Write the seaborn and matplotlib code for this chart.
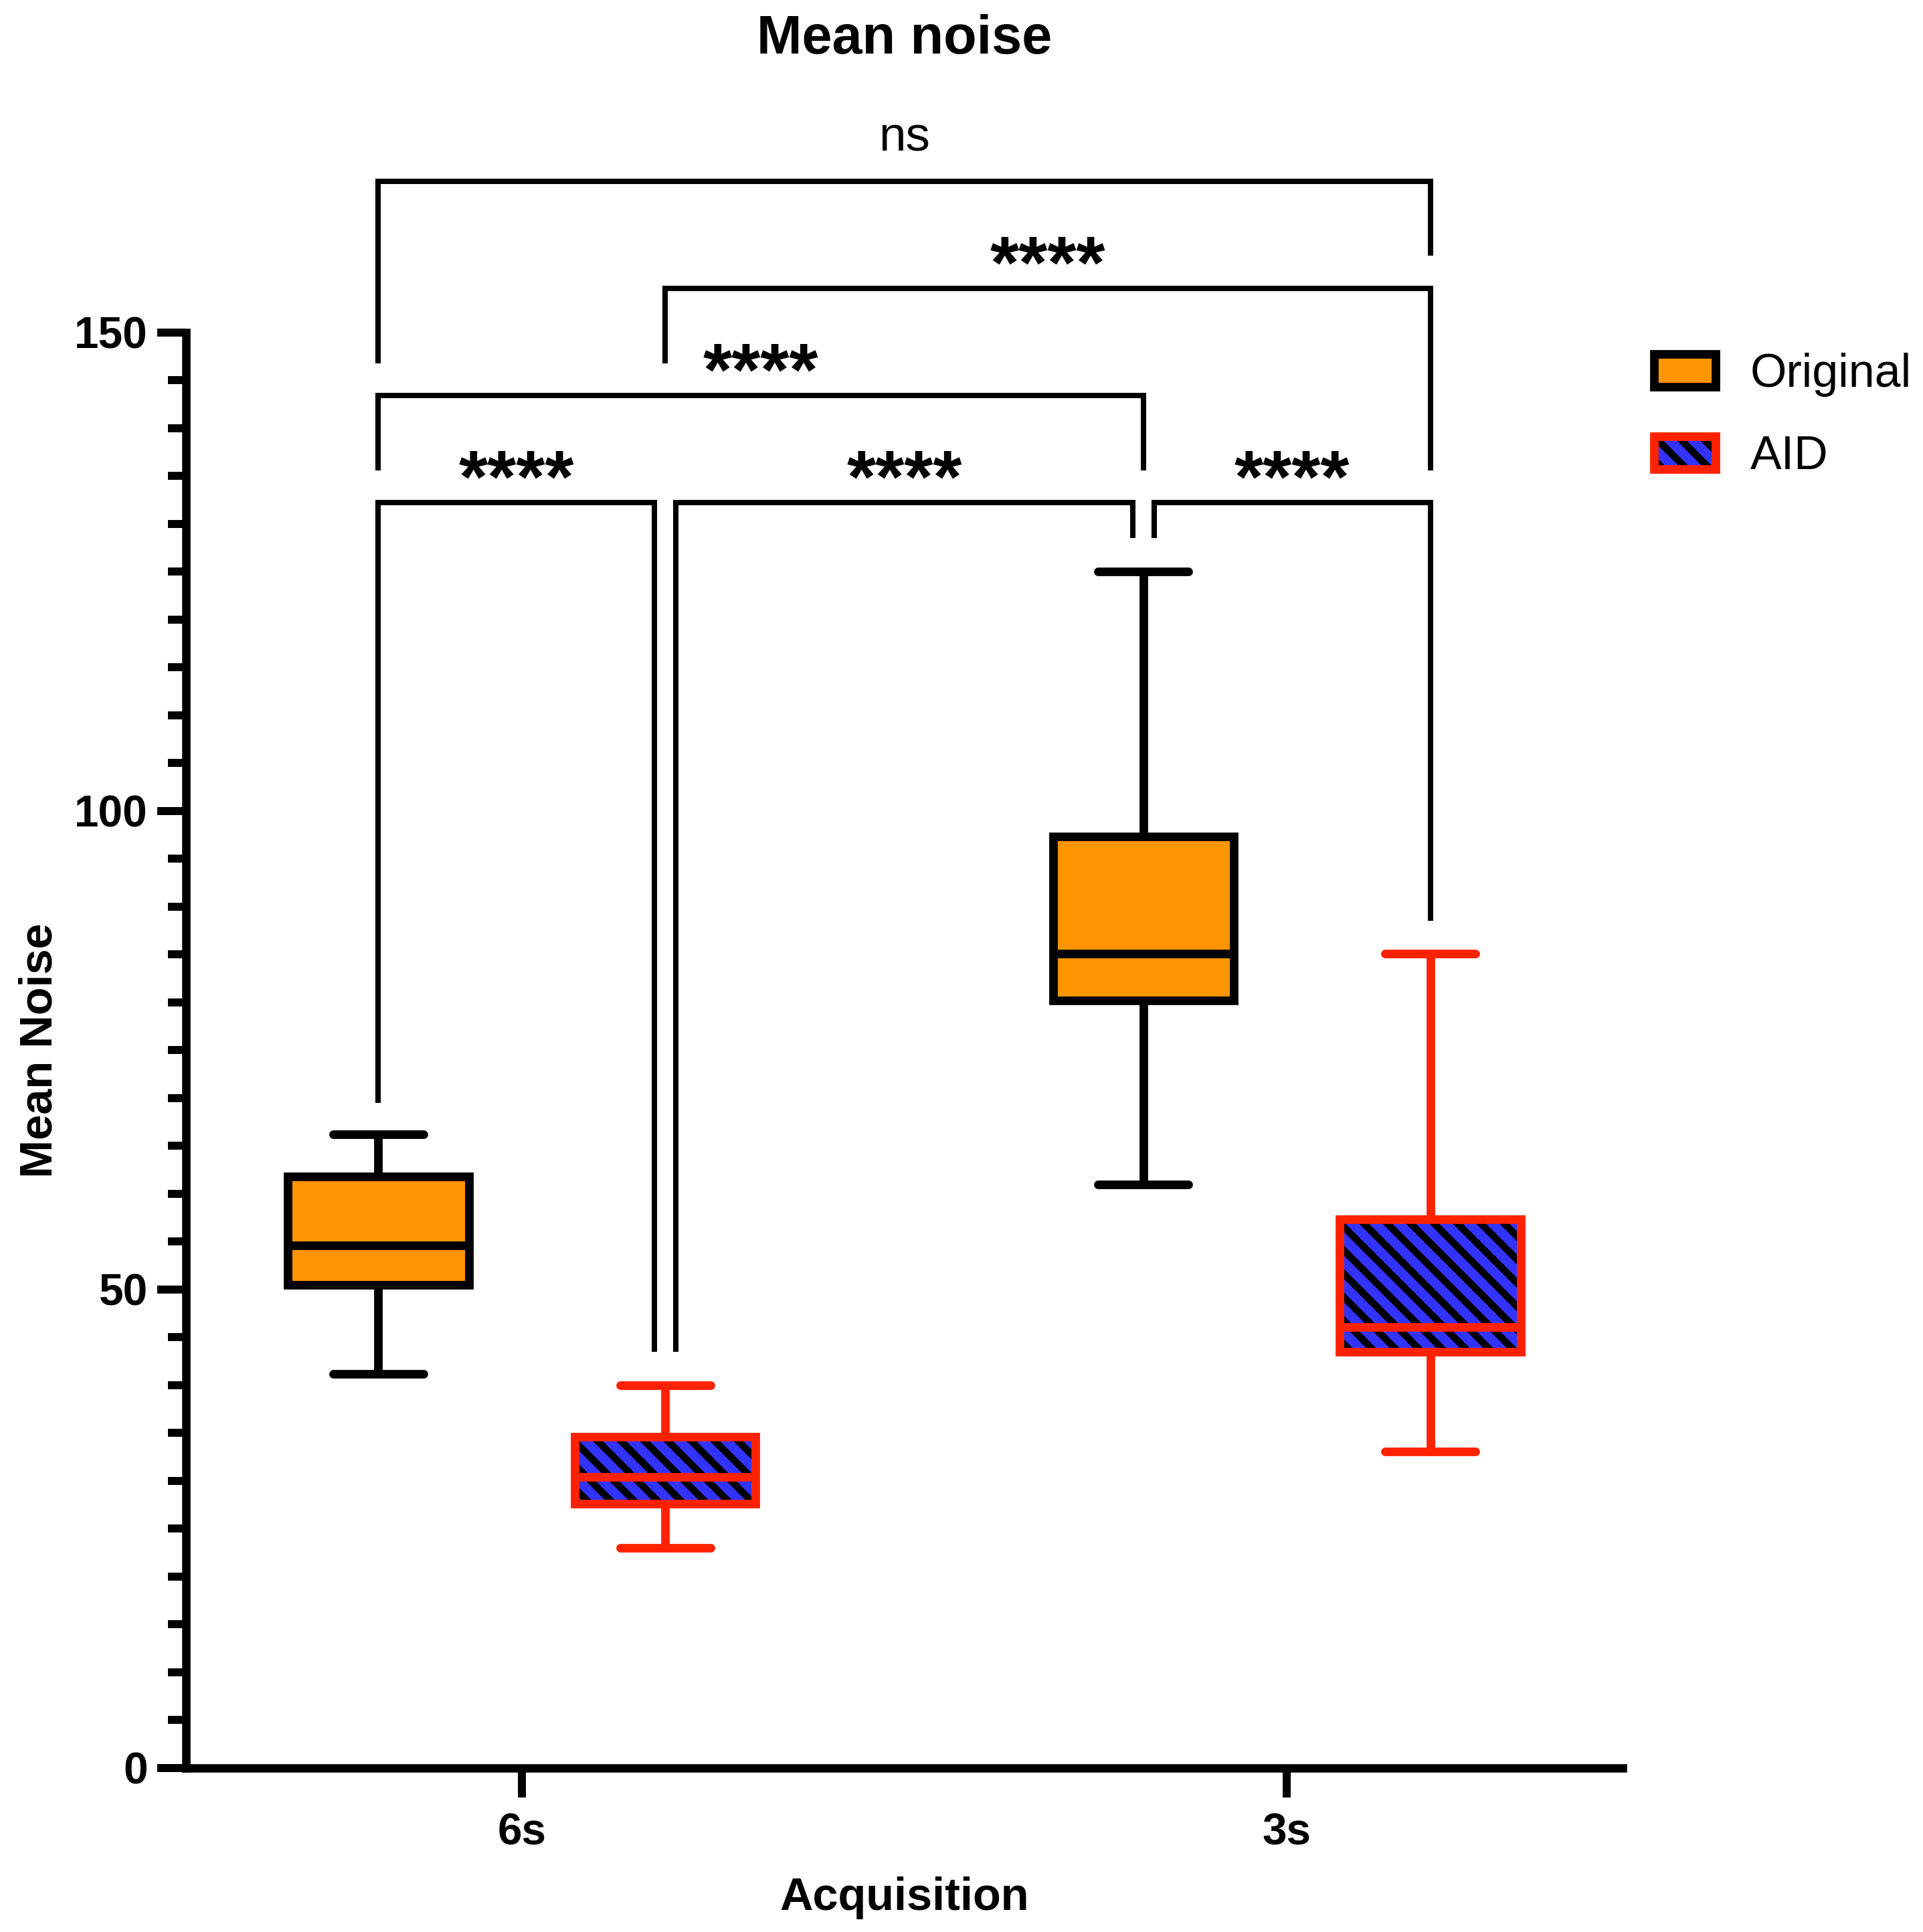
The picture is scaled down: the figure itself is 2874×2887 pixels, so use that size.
import numpy as np
import pandas as pd
import matplotlib
matplotlib.use('Agg')
import matplotlib.pyplot as plt
from matplotlib.patches import PathPatch, Patch
from matplotlib.ticker import MultipleLocator
import seaborn as sns

# categories
acquisition = ['6s', '3s']
methods = ['Original', 'AID']

# five-number summaries: min, Q1, median, Q3, max
original_6s = [41.2, 50.5, 54.6, 61.8, 66.2]
aid_6s = [23.0, 27.6, 30.4, 34.6, 40.0]
original_3s = [61.0, 80.2, 85.1, 97.3, 125.0]
aid_3s = [33.1, 43.5, 46.1, 57.3, 85.1]

# significance brackets, boxes numbered 0..3 = (6s,Orig), (6s,AID), (3s,Orig), (3s,AID)
sig_pairs = [(0, 1), (1, 2), (2, 3), (0, 2), (1, 3), (0, 3)]
sig_bar = [132.2, 132.2, 132.2, 143.4, 154.6, 165.8]
sig_legs = [(69.5, 43.5), (43.5, 128.5), (128.5, 88.5), (135.6, 135.6), (146.8, 135.6), (146.8, 158.0)]
sig_inset = [(0, -1), (1, -1), (1, 0), (0, 0), (0, 0), (0, 0)]
sig_labels = ['****', '****', '****', '****', '****', 'ns']

ORANGE = '#FF9500'
BLUE = '#3333FF'
RED = '#FF2200'
LW = 4.4
BOX_W = 0.75

rows = []
for grp, orig, aid in [('6s', original_6s, aid_6s), ('3s', original_3s, aid_3s)]:
    for v in orig:
        rows.append({'Acquisition': grp, 'Method': 'Original', 'Mean Noise': v})
    for v in aid:
        rows.append({'Acquisition': grp, 'Method': 'AID', 'Mean Noise': v})
df = pd.DataFrame(rows)

sns.set_style('ticks')
plt.rcParams['font.family'] = ['Liberation Sans', 'DejaVu Sans']
plt.rcParams['hatch.linewidth'] = 3.6
plt.rcParams['text.color'] = 'black'
plt.rcParams['axes.labelcolor'] = 'black'
plt.rcParams['axes.edgecolor'] = 'black'
plt.rcParams['xtick.color'] = 'black'
plt.rcParams['ytick.color'] = 'black'

fig = plt.figure(figsize=(2874 / 210, 2887 / 210), dpi=210)
ax = fig.add_axes([0.0967, 0.0849, 0.7471, 0.7430])

kw = dict(x='Acquisition', y='Mean Noise', hue='Method', order=acquisition,
          hue_order=methods, palette={'Original': ORANGE, 'AID': BLUE},
          saturation=1, width=BOX_W, gap=0.37, dodge=True, whis=(0, 100), linewidth=LW,
          capprops=dict(solid_capstyle='round'), legend=False, ax=ax)

sns.boxplot(data=df[df['Method'] == 'Original'], linecolor='black', **kw)
n_before = len(ax.patches)
sns.boxplot(data=df[df['Method'] == 'AID'], linecolor=RED, **kw)

# black hatch on AID boxes, red outline drawn on top
for p in list(ax.patches)[n_before:]:
    p.set_edgecolor('black')
    p.set_linewidth(0)
    p.set_hatch('\\\\')
    ax.add_patch(PathPatch(p.get_path(), transform=p.get_transform(), facecolor='none',
                           edgecolor=RED, lw=LW, joinstyle='miter', zorder=p.get_zorder() + 0.1))

ax.set_xlim(-0.439, 1.439)
ax.set_ylim(0, 150)
ax.yaxis.set_major_locator(MultipleLocator(50))
ax.yaxis.set_minor_locator(MultipleLocator(5))
sns.despine(ax=ax)
for s in ['left', 'bottom']:
    ax.spines[s].set_linewidth(4.3)

ax.tick_params(axis='y', which='major', length=14.7, width=4.1, pad=4.8, labelsize=22.5)
ax.tick_params(axis='y', which='minor', length=9.3, width=4.1)
ax.tick_params(axis='x', length=15, width=4.1, pad=8, labelsize=22.5)
for lab in ax.get_xticklabels() + ax.get_yticklabels():
    lab.set_fontweight('bold')

ax.set_xlabel('Acquisition', fontsize=23.5, fontweight='bold', labelpad=11.2)
ax.set_ylabel('Mean Noise', fontsize=23.5, fontweight='bold', labelpad=6.7)
ax.set_title('Mean noise', fontsize=27.8, fontweight='bold', pad=143)

# box centres from the dodge layout
centers = []
for g in range(len(acquisition)):
    for h in range(len(methods)):
        centers.append(g + (h - 0.5) * BOX_W / 2)

inset = 0.014
for (a, b), bar, (l1, l2), (i1, i2), lab in zip(sig_pairs, sig_bar, sig_legs, sig_inset, sig_labels):
    x1 = centers[a] + i1 * inset
    x2 = centers[b] + i2 * inset
    ax.plot([x1, x1, x2, x2], [l1, bar, bar, l2], color='black', lw=2.75,
            solid_joinstyle='miter', solid_capstyle='butt', clip_on=False)
    if lab == 'ns':
        ax.text((x1 + x2) / 2, bar + 3.2, lab, ha='center', va='baseline',
                fontsize=25, clip_on=False)
    else:
        ax.text((x1 + x2) / 2, bar + 0.05, lab, ha='center', va='baseline',
                fontsize=38, fontweight='bold', clip_on=False)

# legend
h_orig = Patch(facecolor=ORANGE, edgecolor='black', lw=LW)
h_aid = (Patch(facecolor=BLUE, edgecolor='black', lw=0, hatch='\\\\'),
         Patch(facecolor='none', edgecolor=RED, lw=LW))
fig.legend([h_orig, h_aid], methods, loc='upper left', bbox_to_anchor=(0.8601, 0.8176),
           bbox_transform=fig.transFigure, frameon=False, fontsize=24,
           handlelength=1.32, handleheight=0.7, handletextpad=0.73,
           labelspacing=0.82, borderpad=0, borderaxespad=0)

fig.savefig('out.png', dpi=210)
